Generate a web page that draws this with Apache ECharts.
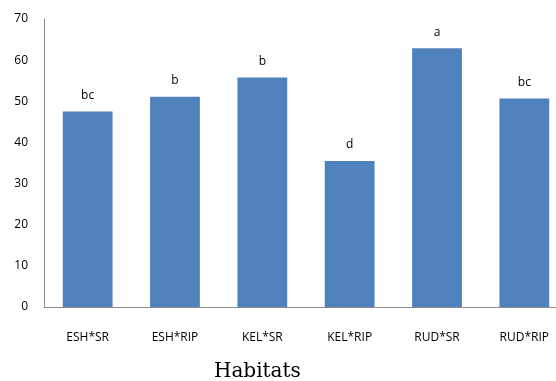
<!DOCTYPE html>
<html><head><meta charset="utf-8">
<script src="https://cdn.jsdelivr.net/npm/echarts@6/dist/echarts.min.js"></script>
<style>html,body{margin:0;padding:0;background:#fff}#c{width:556px;height:381px}</style>
</head><body><div id="c"></div>
<script>
const categories = ['ESH*SR','ESH*RIP','KEL*SR','KEL*RIP','RUD*SR','RUD*RIP'];
const values = [47.5, 51.1, 55.8, 35.5, 62.9, 50.7];
const letters = ['bc','b','b','d','a','bc'];
const yTicks = [0,10,20,30,40,50,60,70];

const chart = echarts.init(document.getElementById('c'));
chart.setOption({
  animation:false,
  grid:{left:44, top:19, width:524, height:288, outerBoundsMode:'none', containLabel:false},
  title:{text:'Habitats', left:209, top:357, textStyle:{fontFamily:'DejaVu Serif', fontSize:20, fontWeight:'normal', color:'#000'}},
  xAxis:{type:'category', data:categories,
    axisLine:{lineStyle:{color:'#8c8c8c', width:1}}, axisTick:{show:false},
    axisLabel:{color:'#000', fontFamily:'Open Sans', fontSize:12, margin:25}},
  yAxis:{type:'value', min:yTicks[0], max:yTicks[yTicks.length-1], interval:10,
    axisLine:{show:true, lineStyle:{color:'#8c8c8c'}}, axisTick:{show:false}, splitLine:{show:false},
    axisLabel:{color:'#000', fontFamily:'Open Sans', fontSize:12, margin:16}},
  series:[{type:'bar', data:values, barWidth:'57%',
    itemStyle:{color:'#4f81bd'},
    label:{show:true, position:'top', distance:10, color:'#000', fontFamily:'Open Sans', fontSize:12,
      formatter:p=>letters[p.dataIndex]}}]
});
</script></body></html>
